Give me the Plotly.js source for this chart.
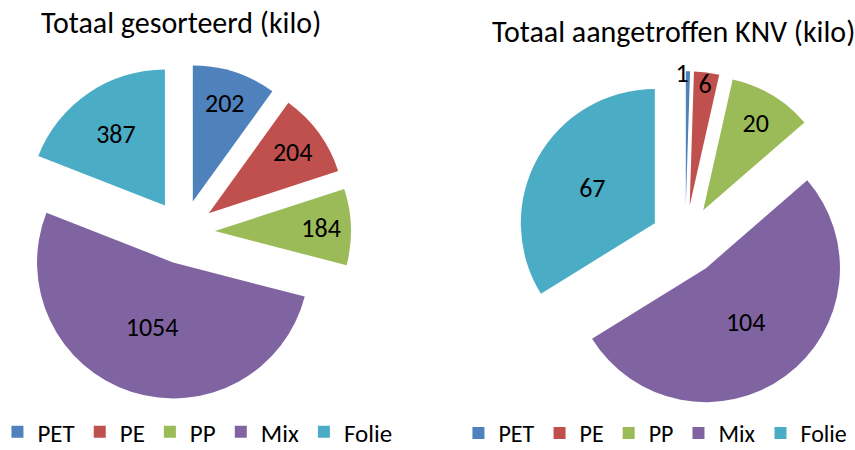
<!DOCTYPE html>
<html>
<head>
<meta charset="utf-8">
<script src="https://cdn.plot.ly/plotly-3.0.1.min.js"></script>
<style>html,body{margin:0;padding:0;background:#fff;}#chart{width:855px;height:450px;}</style>
</head>
<body>
<div id="chart"></div>
<script>
const categories = ['PET', 'PE', 'PP', 'Mix', 'Folie'];
const sortedKilos = [202, 204, 184, 1054, 387];
const foundKnvKilos = [1, 6, 20, 104, 67];
const colors = ['#4F81BD', '#C0504D', '#9BBB59', '#8064A2', '#4BACC6'];
const titleLeft = 'Totaal gesorteerd (kilo)';
const titleRight = 'Totaal aangetroffen KNV (kilo)';

const FONT = 'Carlito, Calibri, Lato, sans-serif';
const NB = '\u00a0';

const traces = [
  {
    type: 'pie', labels: categories, values: sortedKilos, sort: false,
    direction: 'clockwise', rotation: 0,
    marker: {colors: colors},
    pull: 0.235,
    textinfo: 'value', textposition: 'inside', insidetextorientation: 'horizontal',
    textfont: {size: 26, color: '#000', family: FONT},
    domain: {x: [0.0175, 0.4105], y: [0.111, 0.858]},
    legend: 'legend', legendgroup: 'g1', hoverinfo: 'label+value'
  },
  {
    type: 'pie', labels: categories, values: foundKnvKilos, sort: false,
    direction: 'clockwise', rotation: 0,
    marker: {colors: colors},
    pull: 0.26,
    texttemplate: ['%{value}' + NB + NB, '%{value}', '%{value}', '%{value}', '%{value}'],
    textposition: 'inside',
    insidetextorientation: 'horizontal',
    textfont: {size: 26, color: '#000', family: FONT},
    domain: {x: [0.604, 0.999], y: [0.091, 0.842]},
    legend: 'legend2', legendgroup: 'g2', hoverinfo: 'label+value'
  }
];

const layout = {
  width: 855, height: 450,
  margin: {l: 0, r: 0, t: 0, b: 0, autoexpand: false},
  paper_bgcolor: '#fff',
  font: {family: FONT, color: '#000'},
  uniformtext: {mode: 'show', minsize: 26},
  showlegend: true,
  legend: {orientation: 'h', x: -0.003, y: 0.04, xanchor: 'left', yanchor: 'middle',
    font: {size: 25, family: FONT}, itemwidth: 30, tracegroupgap: 0, traceorder: 'normal'},
  legend2: {orientation: 'h', x: 0.997, y: 0.037, xanchor: 'right', yanchor: 'middle',
    font: {size: 24, family: FONT}, itemwidth: 30, tracegroupgap: 0, traceorder: 'normal'},
  annotations: [
    {text: titleLeft, xref: 'paper', yref: 'paper', x: 0.212, y: 0.951, showarrow: false,
      xanchor: 'center', yanchor: 'middle', font: {size: 30, family: FONT}},
    {text: titleRight, xref: 'paper', yref: 'paper', x: 0.788, y: 0.929, showarrow: false,
      xanchor: 'center', yanchor: 'middle', font: {size: 30, family: FONT}}
  ]
};

Plotly.newPlot('chart', traces, layout, {displayModeBar: false, staticPlot: true});
</script>
</body>
</html>
